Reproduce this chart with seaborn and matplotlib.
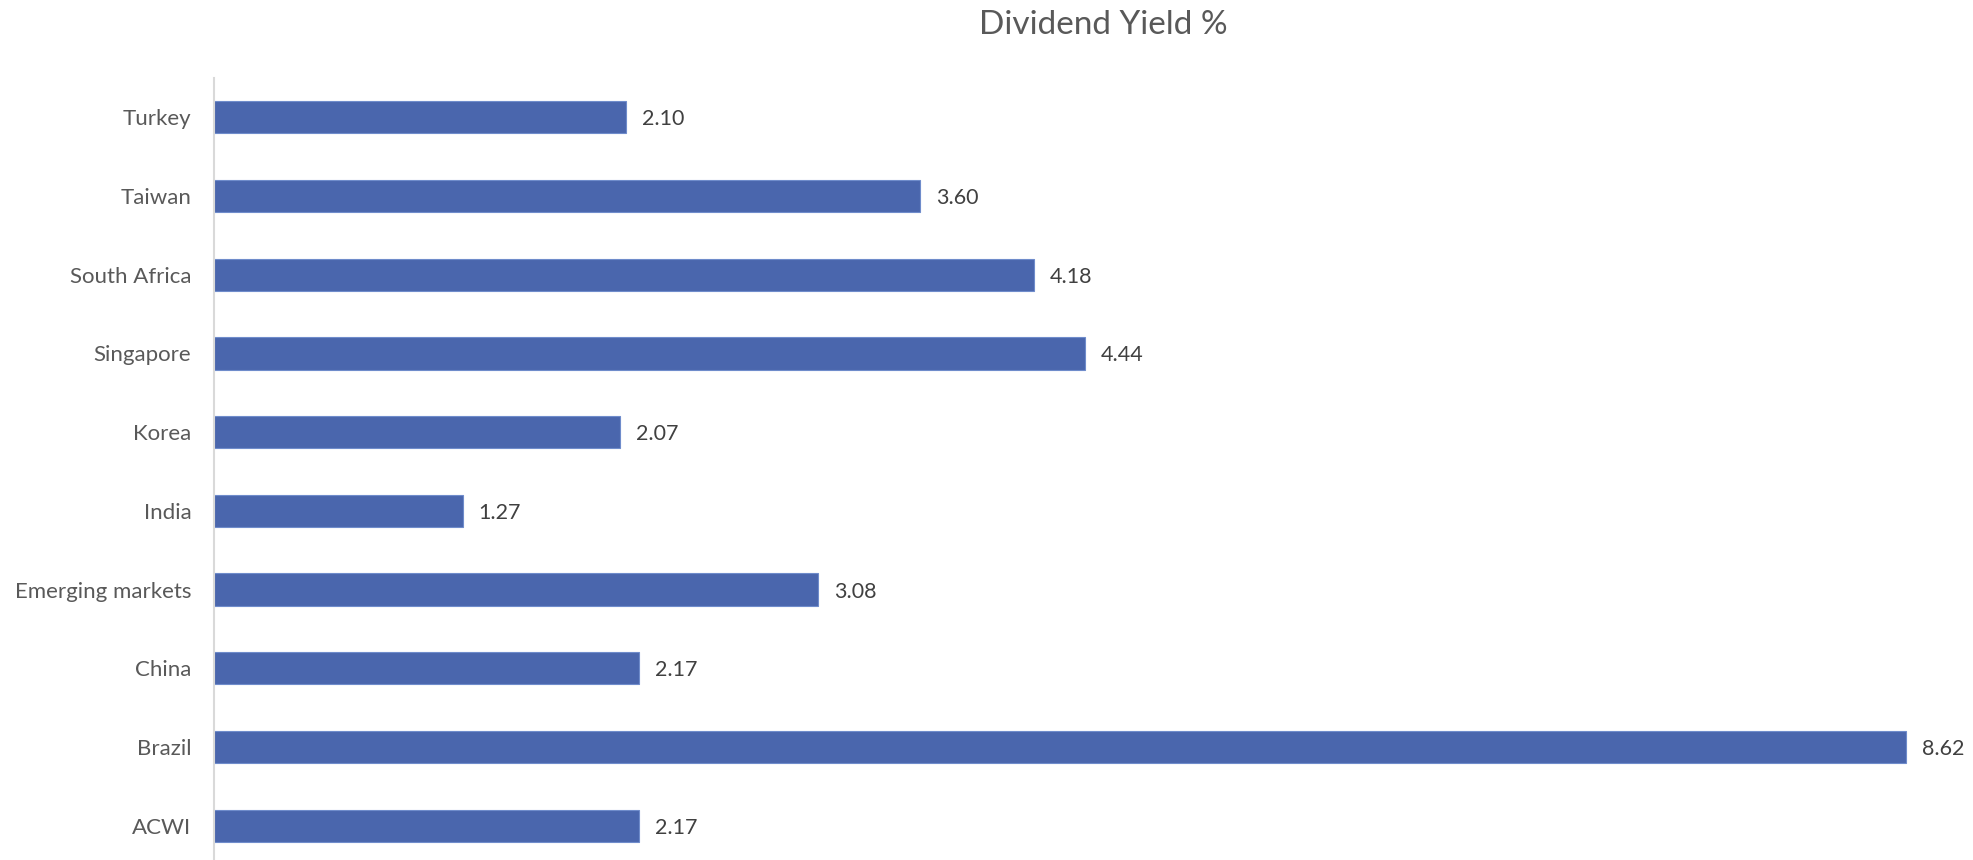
import matplotlib
matplotlib.use("Agg")
import matplotlib.pyplot as plt
import seaborn as sns
import pandas as pd

categories = ["Turkey", "Taiwan", "South Africa", "Singapore", "Korea", "India",
              "Emerging markets", "China", "Brazil", "ACWI"]
values = [2.10, 3.60, 4.18, 4.44, 2.07, 1.27, 3.08, 2.17, 8.62, 2.17]
title = "Dividend Yield %"

sns.set_theme(style="white")
plt.rcParams["font.family"] = ["Lato", "DejaVu Sans"]

df = pd.DataFrame({"country": categories, "value": values})

fig = plt.figure(figsize=(19.73, 8.60), dpi=100)
bottom = -5 / 860
top = 1 - 78 / 860
ax = fig.add_axes([213.5 / 1973, bottom, 1 - 213.5 / 1973, top - bottom])

sns.barplot(data=df, x="value", y="country", orient="h", color="#4A66AD",
            saturation=1, width=0.41, edgecolor="#6F8CCB", linewidth=0.8, ax=ax)

for cont in ax.containers:
    texts = ax.bar_label(cont, labels=[f"{v:.2f}" for v in values], padding=11.5,
                         fontsize=15.5, color="#404040")
    for t in texts:
        t.set_va("center_baseline")

ax.set_xlim(0, (1973 - 213.5) / 196.3)
ax.set_ylim(9.5, -0.5)
ax.set_xlabel("")
ax.set_ylabel("")
ax.set_xticks([])
ax.tick_params(axis="y", length=0, pad=16, labelsize=16, labelcolor="#595959")
for s in ["top", "right", "bottom"]:
    ax.spines[s].set_visible(False)
ax.spines["left"].set_color("#D9D9D9")
ax.spines["left"].set_linewidth(1.5)

fig.text(1103 / 1973, 1 - 25 / 860, title, ha="center", va="center",
         fontsize=24, color="#595959")

fig.savefig("out.png", dpi=100, facecolor="white")
